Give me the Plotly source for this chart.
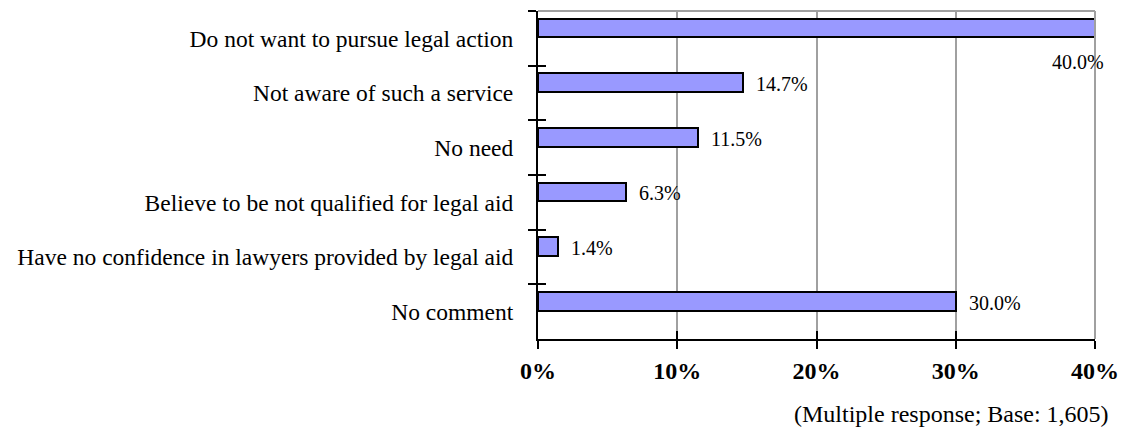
import plotly.graph_objects as go

# reasons for not using legal aid, top to bottom
reasons = [
    "Do not want to pursue legal action",
    "Not aware of such a service",
    "No need",
    "Believe to be not qualified for legal aid",
    "Have no confidence in lawyers provided by legal aid",
    "No comment",
]
percent = [40.0, 14.7, 11.5, 6.3, 1.4, 30.0]
x_ticks = [0, 10, 20, 30, 40]
x_tick_text = ["0%", "10%", "20%", "30%", "40%"]

serif = "Liberation Serif, Times New Roman, serif"

fig = go.Figure()

fig.add_trace(go.Bar(
    x=percent, y=reasons, orientation="h",
    width=0.34, offset=-0.36,
    marker=dict(color="#9999ff", line=dict(color="black", width=2)),
    hoverinfo="skip", showlegend=False,
))

# invisible copy so the overlay axes (inner half of the crossing ticks) get drawn
fig.add_trace(go.Scatter(
    x=percent, y=reasons, xaxis="x2", yaxis="y2", mode="markers",
    marker=dict(opacity=0), hoverinfo="skip", showlegend=False,
))

# value labels
for v, r in zip(percent, reasons):
    if v >= 40:
        fig.add_annotation(x=v, y=r, text=f"{v:.1f}%", showarrow=False,
                           xanchor="right", xshift=11, yshift=-24,
                           font=dict(family=serif, size=20, color="black"))
    else:
        fig.add_annotation(x=v, y=r, text=f"{v:.1f}%", showarrow=False,
                           xanchor="left", xshift=11, yshift=9,
                           font=dict(family=serif, size=20, color="black"))

fig.add_annotation(xref="paper", yref="paper", x=1.028, y=-0.229,
                   xanchor="right", yanchor="middle", showarrow=False,
                   text="(Multiple response; Base: 1,605)",
                   font=dict(family=serif, size=24, color="black"))

# grey frame on top and right
fig.add_shape(type="line", xref="x domain", yref="y domain", x0=0, x1=1, y0=1, y1=1,
              line=dict(color="#a0a0a0", width=2))
fig.add_shape(type="line", xref="x domain", yref="y domain", x0=1, x1=1, y0=0, y1=1,
              line=dict(color="#a0a0a0", width=2))

fig.update_layout(
    width=1127, height=432,
    margin=dict(l=530, r=40, t=3, b=101, autoexpand=False),
    plot_bgcolor="white", paper_bgcolor="white",
    font=dict(family=serif, color="black"),
    bargap=0,
    xaxis=dict(
        range=[0, 40], tickvals=x_ticks, ticktext=x_tick_text,
        tickfont=dict(family=serif, size=24, color="black", weight="bold"),
        ticks="outside", ticklen=8, tickwidth=2, tickcolor="black",
        showline=True, linecolor="black", linewidth=2,
        showgrid=True, gridcolor="#a0a0a0", gridwidth=2, zeroline=False,
        ticklabelstandoff=1, automargin=False,
    ),
    xaxis2=dict(
        range=[0, 40], tickvals=x_ticks, overlaying="x", anchor="y2", side="bottom",
        ticks="inside", ticklen=8, tickwidth=2, tickcolor="black",
        showticklabels=False, showgrid=False, showline=False, zeroline=False,
        automargin=False,
    ),
    yaxis=dict(
        type="category", categoryarray=reasons, range=[5.5, -0.5],
        tickson="boundaries", ticks="outside", ticklen=8, tickwidth=2, tickcolor="black",
        showline=True, linecolor="black", linewidth=2, showgrid=False,
        tickfont=dict(family=serif, size=23.5, color="black"),
        ticklabelstandoff=18, automargin=False,
    ),
    yaxis2=dict(
        type="category", categoryarray=reasons, range=[5.5, -0.5],
        overlaying="y", anchor="x2", side="left",
        tickson="boundaries", ticks="inside", ticklen=8, tickwidth=2, tickcolor="black",
        showticklabels=False, showgrid=False, showline=False, automargin=False,
    ),
)

fig.write_html("out.html")
